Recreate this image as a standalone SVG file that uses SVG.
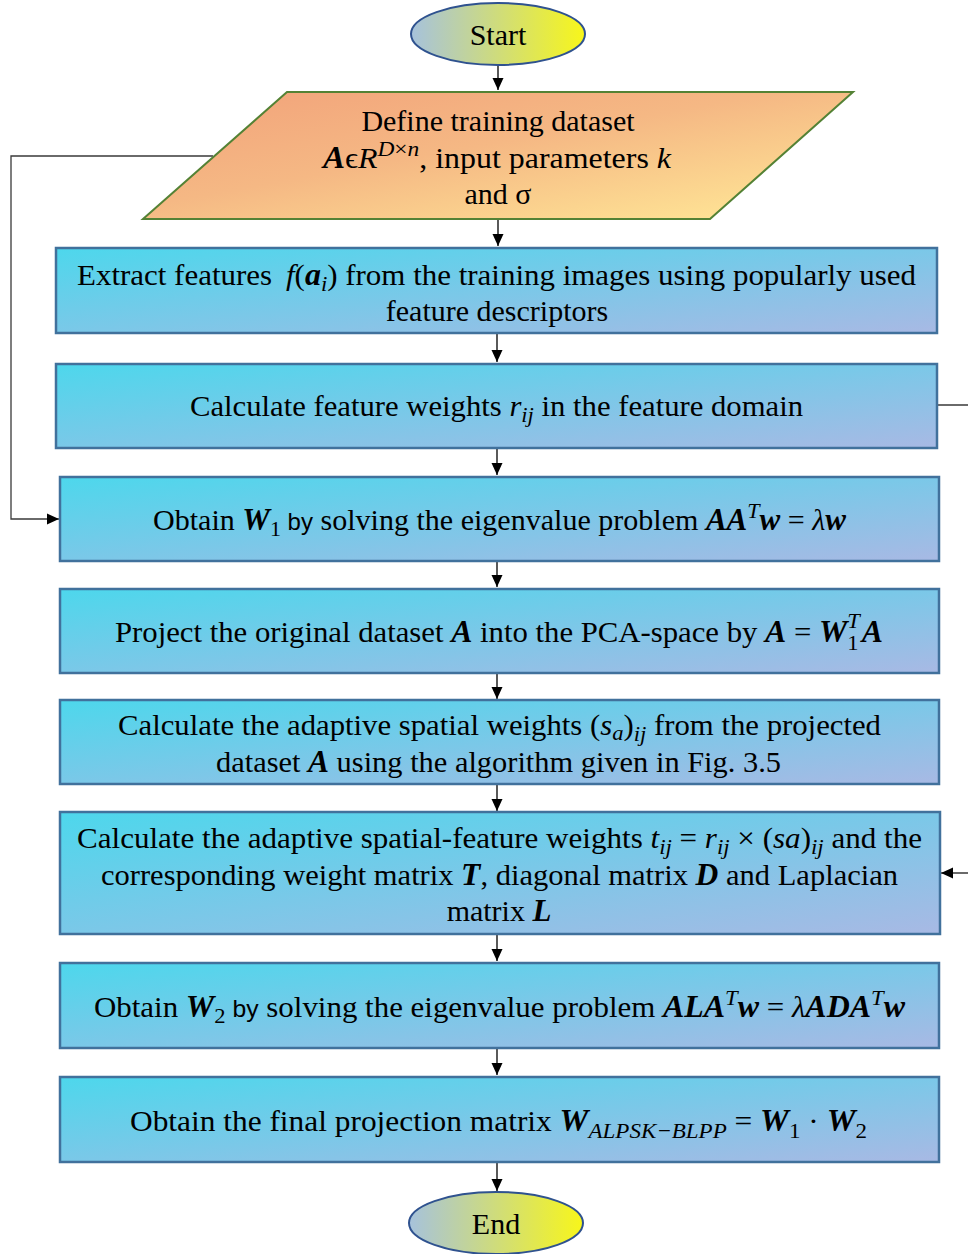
<svg xmlns="http://www.w3.org/2000/svg" width="968" height="1254" viewBox="0 0 968 1254">
  <style>
    .t { font-family: "Liberation Serif", "Times New Roman", serif; font-size: 30px; fill: #000; text-anchor: middle; }
    .mi { font-style: italic; }
    .mb { font-style: italic; font-weight: bold; font-size: 31px; }
    .sb { font-family: "Liberation Sans", Arial, sans-serif; font-size: 24px; }
    .sub { font-size: 22px; }
    .box { fill: url(#gBox); stroke: #41719c; stroke-width: 2.5; }
    .term { fill: url(#gTerm); stroke: #2f528f; stroke-width: 2; }
    .io { fill: url(#gIO); stroke: #548235; stroke-width: 2; }
    .wire { fill: none; stroke: #000; stroke-width: 1.3; }
    .loop { fill: none; stroke: #3a3a3a; stroke-width: 1.3; }
  </style>
  <defs>
    <linearGradient id="gBox" x1="0" y1="0" x2="1" y2="1">
      <stop offset="0" stop-color="#4dd7ec"/>
      <stop offset="1" stop-color="#a8b9e4"/>
    </linearGradient>
    <linearGradient id="gTerm" x1="0" y1="0" x2="1" y2="0">
      <stop offset="0" stop-color="#a6c2dc"/>
      <stop offset="1" stop-color="#f8f61a"/>
    </linearGradient>
    <linearGradient id="gIO" x1="0" y1="0" x2="1" y2="1">
      <stop offset="0" stop-color="#f2a27a"/>
      <stop offset="0.45" stop-color="#f5b884"/>
      <stop offset="0.95" stop-color="#ffe696"/>
      <stop offset="1" stop-color="#d8d2b0"/>
    </linearGradient>
    <marker id="arr" viewBox="0 0 12 12" refX="12" refY="6" markerWidth="12" markerHeight="12" markerUnits="userSpaceOnUse" orient="auto">
      <path d="M0,0.5 L12,6 L0,11.5 Z" fill="#000"/>
    </marker>
  </defs>

  <!-- connectors -->
  <g id="connectors">
    <line class="wire" x1="498" y1="66" x2="498" y2="90" marker-end="url(#arr)"/>
    <line class="wire" x1="498" y1="220" x2="498" y2="246" marker-end="url(#arr)"/>
    <line class="wire" x1="497" y1="334" x2="497" y2="362" marker-end="url(#arr)"/>
    <line class="wire" x1="497" y1="449" x2="497" y2="475" marker-end="url(#arr)"/>
    <line class="wire" x1="497" y1="562" x2="497" y2="587" marker-end="url(#arr)"/>
    <line class="wire" x1="497" y1="674" x2="497" y2="699" marker-end="url(#arr)"/>
    <line class="wire" x1="497" y1="785" x2="497" y2="811" marker-end="url(#arr)"/>
    <line class="wire" x1="497" y1="935" x2="497" y2="961" marker-end="url(#arr)"/>
    <line class="wire" x1="497" y1="1049" x2="497" y2="1075" marker-end="url(#arr)"/>
    <line class="wire" x1="497" y1="1163" x2="497" y2="1191" marker-end="url(#arr)"/>
    <!-- loop from input block to the W1 step -->
    <path class="loop" d="M213,156 H11 V519 H59" marker-end="url(#arr)"/>
    <!-- loop from feature weights to the spatial-feature weights step -->
    <path class="loop" d="M938,405 H976 V873 H941" marker-end="url(#arr)"/>
  </g>

  <g id="start">
    <ellipse class="term" cx="498" cy="34" rx="87" ry="31"/>
    <text class="t" x="498" y="45">Start</text>
  </g>

  <g id="input">
    <polygon class="io" points="287,92 853,92 710,219 143,219"/>
    <text class="t" x="498" y="131">Define training dataset</text>
    <text class="t" x="497" y="168" textLength="348" lengthAdjust="spacingAndGlyphs"><tspan class="mb">A</tspan>ϵ<tspan class="mi">R</tspan><tspan class="sub mi" dy="-12">D</tspan><tspan class="sub">×</tspan><tspan class="sub mi">n</tspan><tspan dy="12">, input parameters </tspan><tspan class="mi">k</tspan></text>
    <text class="t" x="498" y="204">and σ</text>
  </g>

  <g id="extract">
    <rect class="box" x="56" y="248" width="881" height="85"/>
    <text class="t" x="496.5" y="285" textLength="839" lengthAdjust="spacingAndGlyphs">Extract features <tspan class="mi" dx="6">f</tspan>(<tspan class="mb">a</tspan><tspan class="sub mi" dy="6">i</tspan><tspan dy="-6">) from the training images using popularly used</tspan></text>
    <text class="t" x="497" y="321">feature descriptors</text>
  </g>

  <g id="feature-weights">
    <rect class="box" x="56" y="364" width="881" height="84"/>
    <text class="t" x="496.5" y="416" textLength="613" lengthAdjust="spacingAndGlyphs">Calculate feature weights <tspan class="mi">r</tspan><tspan class="sub mi" dy="6">ij</tspan><tspan dy="-6"> in the feature domain</tspan></text>
  </g>

  <g id="obtain-w1">
    <rect class="box" x="60" y="477" width="879" height="84"/>
    <text class="t" x="499.5" y="530" textLength="693" lengthAdjust="spacingAndGlyphs">Obtain <tspan class="mb">W</tspan><tspan class="sub" dy="6">1</tspan><tspan class="sb" dy="-6"> by</tspan> solving the eigenvalue problem <tspan class="mb">AA</tspan><tspan class="sub mi" dy="-12">T</tspan><tspan class="mb" dy="12">w</tspan> = <tspan class="mi">λ</tspan><tspan class="mb">w</tspan></text>
  </g>

  <g id="project">
    <rect class="box" x="60" y="589" width="879" height="84"/>
    <text class="t" x="499" y="642" textLength="768" lengthAdjust="spacingAndGlyphs">Project the original dataset <tspan class="mb">A</tspan> into the PCA-space by <tspan class="mb">A</tspan> = <tspan class="mb">W</tspan><tspan class="sub" dy="8">1</tspan><tspan class="sub mi" dx="-11" dy="-22">T</tspan><tspan class="mb" dx="2" dy="14">A</tspan></text>
  </g>

  <g id="spatial-weights">
    <rect class="box" x="60" y="700" width="879" height="84"/>
    <text class="t" x="499.5" y="735" textLength="763" lengthAdjust="spacingAndGlyphs">Calculate the adaptive spatial weights (<tspan class="mi">s</tspan><tspan class="sub mi" dy="5">a</tspan><tspan dy="-5">)</tspan><tspan class="sub mi" dy="6">ij</tspan><tspan dy="-6"> from the projected</tspan></text>
    <text class="t" x="498.5" y="772" textLength="565" lengthAdjust="spacingAndGlyphs">dataset <tspan class="mb">A</tspan> using the algorithm given in Fig. 3.5</text>
  </g>

  <g id="spatial-feature-weights">
    <rect class="box" x="60" y="812" width="880" height="122"/>
    <text class="t" x="499.5" y="848" textLength="845" lengthAdjust="spacingAndGlyphs">Calculate the adaptive spatial-feature weights <tspan class="mi">t</tspan><tspan class="sub mi" dy="6">ij</tspan><tspan dy="-6"> = </tspan><tspan class="mi">r</tspan><tspan class="sub mi" dy="6">ij</tspan><tspan dy="-6"> × (</tspan><tspan class="mi">sa</tspan>)<tspan class="sub mi" dy="6">ij</tspan><tspan dy="-6"> and the</tspan></text>
    <text class="t" x="499.5" y="885" textLength="797" lengthAdjust="spacingAndGlyphs">corresponding weight matrix <tspan class="mb">T</tspan>, diagonal matrix <tspan class="mb">D</tspan> and Laplacian</text>
    <text class="t" x="499" y="921">matrix <tspan class="mb">L</tspan></text>
  </g>

  <g id="obtain-w2">
    <rect class="box" x="60" y="963" width="879" height="85"/>
    <text class="t" x="499.5" y="1017" textLength="811" lengthAdjust="spacingAndGlyphs">Obtain <tspan class="mb">W</tspan><tspan class="sub" dy="6">2</tspan><tspan class="sb" dy="-6"> by</tspan> solving the eigenvalue problem <tspan class="mb">ALA</tspan><tspan class="sub mi" dy="-12">T</tspan><tspan class="mb" dy="12">w</tspan> = <tspan class="mi">λ</tspan><tspan class="mb">ADA</tspan><tspan class="sub mi" dy="-12">T</tspan><tspan class="mb" dy="12">w</tspan></text>
  </g>

  <g id="final-projection">
    <rect class="box" x="60" y="1077" width="879" height="85"/>
    <text class="t" x="498.5" y="1131" textLength="737" lengthAdjust="spacingAndGlyphs">Obtain the final projection matrix <tspan class="mb">W</tspan><tspan class="sub mi" dy="7">ALPSK−BLPP</tspan><tspan dy="-7"> = </tspan><tspan class="mb">W</tspan><tspan class="sub" dy="7">1</tspan><tspan dy="-7"> · </tspan><tspan class="mb">W</tspan><tspan class="sub" dy="7">2</tspan></text>
  </g>

  <g id="end">
    <ellipse class="term" cx="496" cy="1223" rx="87" ry="31"/>
    <text class="t" x="496" y="1234">End</text>
  </g>
</svg>
